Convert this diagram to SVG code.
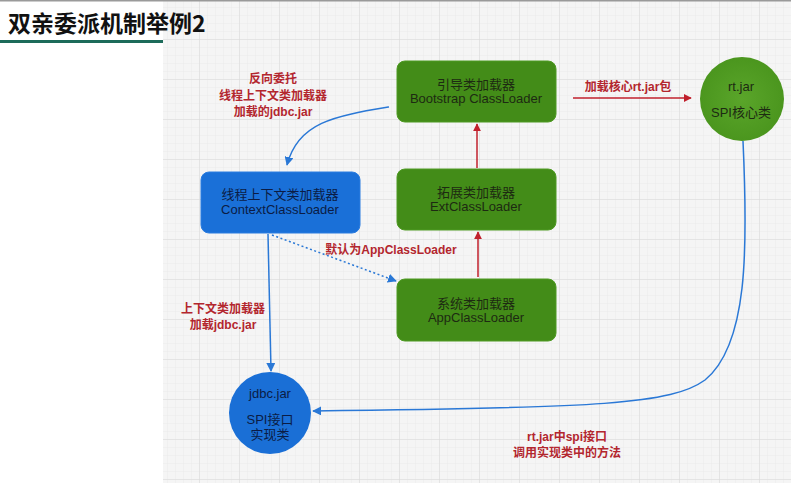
<svg xmlns="http://www.w3.org/2000/svg" width="791" height="485" viewBox="0 0 791 485">
<defs>
<pattern id="minor" width="8" height="8" patternUnits="userSpaceOnUse">
<path d="M8 0V8M0 8H8" fill="none" stroke="#e6e6e6" stroke-width="0.6"/>
</pattern>
<pattern id="major" width="40" height="40" patternUnits="userSpaceOnUse">
<rect width="40" height="40" fill="url(#minor)"/>
<path d="M40 0V40M0 40H40" fill="none" stroke="#d9d9d9" stroke-width="1"/>
</pattern>
<radialGradient id="gg" cx="0.5" cy="0.5" r="0.5">
<stop offset="0" stop-color="#5aa52a"/>
<stop offset="1" stop-color="#4b961e"/>
</radialGradient>
<marker id="ar" viewBox="0 0 10 10" refX="9" refY="5" markerWidth="8" markerHeight="8" markerUnits="userSpaceOnUse" orient="auto">
<path d="M0 0L10 5L0 10z" fill="#c0202c"/>
</marker>
<marker id="ab" viewBox="0 0 10 10" refX="9" refY="5" markerWidth="9" markerHeight="9" markerUnits="userSpaceOnUse" orient="auto">
<path d="M0 0L10 5L0 10z" fill="#2a78d6"/>
</marker>
<style>
.t{font-family:"Liberation Sans","Noto Sans CJK SC",sans-serif;text-anchor:middle}
.gb{fill:#438c18;stroke:#4e9a22;stroke-width:1}
.bb{fill:#1a70d8;stroke:#2a7ce0;stroke-width:1}
.nt{font-size:13px;fill:#1d2a12}
.bt{font-size:13px;fill:#0b1c45}
.rl{font-size:12px;fill:#b3262e;font-weight:bold}
.rc{stroke:#c0202c;stroke-width:1.5;fill:none}
.bc{stroke:#2a78d6;stroke-width:1.5;fill:none}
</style>
</defs>
<rect width="791" height="485" fill="#ffffff"/>
<rect x="163" y="0" width="628" height="483" fill="#f5f5f5"/>
<rect x="163" y="0" width="628" height="483" fill="url(#major)"/>
<rect x="0" y="0" width="791" height="1.5" fill="#9a9a9a"/>
<text x="8" y="32" style="font-family:'Noto Sans CJK SC',sans-serif;font-size:23px;font-weight:bold;fill:#111">双亲委派机制举例2</text>
<rect x="0" y="40" width="163" height="3" fill="#1d6b5a"/>

<g id="connectors">
<path class="rc" d="M573 98H691" marker-end="url(#ar)"/>
<path class="rc" d="M477 168V124" marker-end="url(#ar)"/>
<path class="rc" d="M478 277V232" marker-end="url(#ar)"/>
<path class="bc" d="M389 107C335 116 298 122 287 165" marker-end="url(#ab)"/>
<path class="bc" d="M268 234L271 371" marker-end="url(#ab)"/>
<path class="bc" d="M272 235L396 281" stroke-dasharray="2 2.5" marker-end="url(#ab)"/>
<path class="bc" d="M743 141C748 250 748 345 705 380C672 404 600 408 313 411" marker-end="url(#ab)"/>
</g>

<g id="bootstrap">
<rect class="gb" x="397" y="61" width="159" height="61" rx="8"/>
<text class="t nt" x="476" y="89">引导类加载器</text>
<text class="t nt" x="476" y="103">Bootstrap ClassLoader</text>
</g>
<g id="ext">
<rect class="gb" x="397" y="169" width="159" height="61" rx="8"/>
<text class="t nt" x="476" y="197">拓展类加载器</text>
<text class="t nt" x="476" y="211">ExtClassLoader</text>
</g>
<g id="app">
<rect class="gb" x="397" y="279" width="159" height="62" rx="8"/>
<text class="t nt" x="476" y="308">系统类加载器</text>
<text class="t nt" x="476" y="322">AppClassLoader</text>
</g>
<g id="context">
<rect class="bb" x="201" y="172" width="159" height="61" rx="8"/>
<text class="t bt" x="280" y="199">线程上下文类加载器</text>
<text class="t bt" x="280" y="214">ContextClassLoader</text>
</g>
<g id="rtjar">
<circle cx="742" cy="99" r="42" fill="url(#gg)"/>
<text class="t nt" x="741" y="91">rt.jar</text>
<text class="t nt" x="741" y="117">SPI核心类</text>
</g>
<g id="jdbcjar">
<circle cx="270" cy="413" r="41" fill="#1a6fd6"/>
<text class="t bt" x="270" y="398">jdbc.jar</text>
<text class="t bt" x="270" y="424">SPI接口</text>
<text class="t bt" x="270" y="439">实现类</text>
</g>

<g id="labels">
<text class="t rl" x="273" y="83">反向委托</text>
<text class="t rl" x="273" y="100">线程上下文类加载器</text>
<text class="t rl" x="273" y="116">加载的jdbc.jar</text>
<text class="t rl" x="628" y="91">加载核心rt.jar包</text>
<text class="t rl" x="391" y="254">默认为AppClassLoader</text>
<text class="t rl" x="223" y="313">上下文类加载器</text>
<text class="t rl" x="223" y="329">加载jdbc.jar</text>
<text class="t rl" x="567" y="441">rt.jar中spi接口</text>
<text class="t rl" x="567" y="457">调用实现类中的方法</text>
</g>
</svg>
